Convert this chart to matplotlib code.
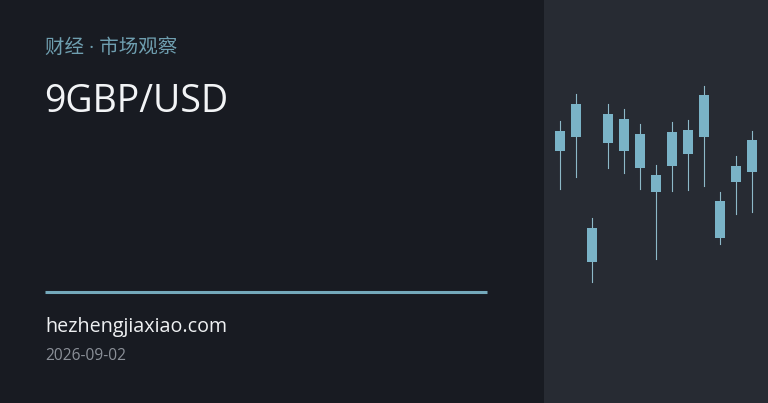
import matplotlib
matplotlib.use("Agg")
import matplotlib.pyplot as plt
from matplotlib.patches import Rectangle

# candle data (GBP/USD, arbitrary session)
opens  = [1.2849, 1.2863, 1.2772, 1.2857, 1.2881, 1.2866, 1.2825, 1.2834, 1.2870, 1.2863, 1.2799, 1.2818, 1.2828]
closes = [1.2869, 1.2896, 1.2738, 1.2886, 1.2849, 1.2832, 1.2808, 1.2868, 1.2846, 1.2905, 1.2762, 1.2834, 1.2860]
highs  = [1.2879, 1.2906, 1.2782, 1.2896, 1.2891, 1.2876, 1.2835, 1.2878, 1.2880, 1.2914, 1.2808, 1.2844, 1.2869]
lows   = [1.2811, 1.2823, 1.2718, 1.2832, 1.2827, 1.2811, 1.2741, 1.2809, 1.2810, 1.2814, 1.2756, 1.2786, 1.2788]

kicker = "财经 · 市场观察"
title = "9GBP/USD"
site = "hezhengjiaxiao.com"
date = "2026-09-02"

W, H = 768, 403
BG_LEFT = '#181b22'
BG_RIGHT = '#272b33'
ACCENT = '#74a9bb'
CANDLE = '#7ab3c7'

fig = plt.figure(figsize=(W / 100, H / 100), dpi=100)
fig.patch.set_facecolor(BG_LEFT)

# right panel with the candles
ax = fig.add_axes([544 / W, 0, (W - 544) / W, 1])
ax.set_facecolor(BG_RIGHT)
ax.set_xlim(-1, 13)
ax.set_ylim(1.2597, 1.3000)
ax.axis('off')
ax.add_patch(Rectangle((0, 0), 1, 1, transform=ax.transAxes,
                       facecolor=BG_RIGHT, edgecolor='none', zorder=0))

bw = 0.58
for i, (o, c, h, l) in enumerate(zip(opens, closes, highs, lows)):
    ax.plot([i, i], [l, h], color='#8db9c8', lw=0.8, zorder=2)
    lo, hi = min(o, c), max(o, c)
    ax.add_patch(Rectangle((i - bw / 2, lo), bw, hi - lo,
                           facecolor=CANDLE, edgecolor='none', zorder=3))

fam = ['Open Sans', 'Noto Sans CJK SC', 'DejaVu Sans']


def px(x, y):
    return x / W, 1 - y / H


fig.text(*px(45, 48), kicker, color='#6f9fb0', fontsize=14,
         family=fam, va='center', ha='left')
fig.text(*px(44, 102), title, color='#f2f4f6', fontsize=27,
         family=fam, va='center', ha='left')

line_ax = fig.add_axes([0, 0, 1, 1], facecolor='none')
line_ax.set_xlim(0, W)
line_ax.set_ylim(H, 0)
line_ax.axis('off')
line_ax.plot([45, 487], [292, 292], color=ACCENT, lw=2.2,
             solid_capstyle='butt')

fig.text(*px(45, 327), site, color='#eef0f2', fontsize=14.2,
         family=fam, va='center', ha='left')
fig.text(*px(45, 356), date, color='#8b9098', fontsize=11.2,
         family=fam, va='center', ha='left')

fig.savefig('out.png', dpi=100, facecolor=fig.get_facecolor())
